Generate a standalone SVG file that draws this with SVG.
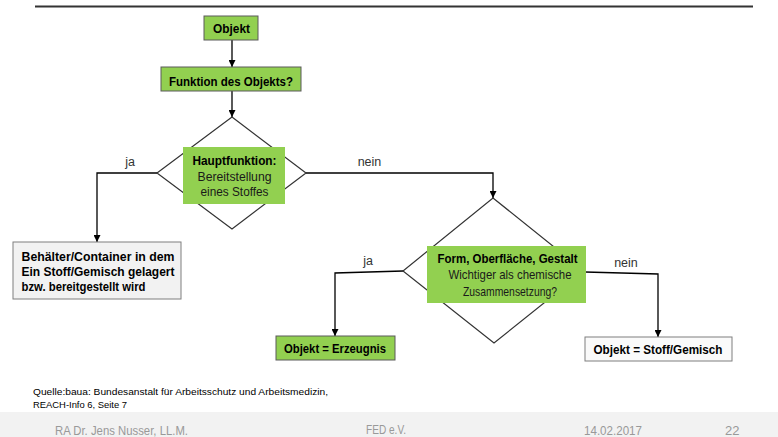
<svg xmlns="http://www.w3.org/2000/svg" width="778" height="437" viewBox="0 0 778 437">
<defs>
<marker id="arr" viewBox="0 0 10 10" refX="10" refY="5" markerWidth="7" markerHeight="7" markerUnits="userSpaceOnUse" orient="auto">
<path d="M0,0 L10,5 L0,10 z" fill="#000"/>
</marker>
<style>
.g{fill:#92d050;stroke:#5a5a5a;stroke-width:1}
.gn{fill:#92d050;stroke:none}
.w{fill:#f2f2f2;stroke:#7f7f7f;stroke-width:1}
.d{fill:#fff;stroke:#333;stroke-width:1.2}
.t{font-family:"Liberation Sans",Arial,sans-serif;font-size:13px;fill:#1a1a1a}
.b{font-weight:bold;fill:#000}
.c{text-anchor:middle}
.l{font-family:"Liberation Sans",Arial,sans-serif;font-size:12.5px;fill:#333;text-anchor:middle}
.f{font-family:"Liberation Sans",Arial,sans-serif;font-size:13px;fill:#999}
.q{font-family:"Liberation Sans",Arial,sans-serif;font-size:9.5px;fill:#000}
#connectors line,#connectors polyline{fill:none;stroke:#000;stroke-width:1.3}
</style>
</defs>
<rect x="0" y="0" width="778" height="437" fill="#fff"/>
<line x1="35" y1="6.5" x2="753" y2="6.5" stroke="#333" stroke-width="2"/>

<g id="connectors">
<line x1="232" y1="40" x2="232" y2="67" marker-end="url(#arr)"/>
<line x1="232" y1="91" x2="232" y2="117" marker-end="url(#arr)"/>
<polyline points="157,173 97,173 97,242" marker-end="url(#arr)"/>
<polyline points="306,173 493,173 493,198" marker-end="url(#arr)"/>
<polyline points="403,271 335,273 335,336" marker-end="url(#arr)"/>
<polyline points="585,272 658,274 658,337" marker-end="url(#arr)"/>
<text class="l" x="130" y="166">ja</text>
<text class="l" x="369.5" y="166">nein</text>
<text class="l" x="368" y="265">ja</text>
<text class="l" x="626" y="267">nein</text>
</g>

<g id="objekt">
<rect class="g" x="204" y="16" width="54" height="24"/>
<text class="t b c" x="231.5" y="33" textLength="37" lengthAdjust="spacingAndGlyphs">Objekt</text>
</g>

<g id="funktion">
<rect class="g" x="161" y="67" width="140" height="24"/>
<text class="t b c" x="231" y="86" textLength="124" lengthAdjust="spacingAndGlyphs">Funktion des Objekts?</text>
</g>

<g id="hauptfunktion">
<polygon class="d" points="232,117 306,173 232,229 157,173"/>
<rect class="gn" x="183" y="147" width="102" height="57"/>
<text class="t b c" x="234.5" y="165" textLength="84" lengthAdjust="spacingAndGlyphs">Hauptfunktion:</text>
<text class="t c" x="234.5" y="180.5" textLength="74" lengthAdjust="spacingAndGlyphs">Bereitstellung</text>
<text class="t c" x="234.5" y="196" textLength="68" lengthAdjust="spacingAndGlyphs">eines Stoffes</text>
</g>

<g id="behaelter">
<rect class="w" x="13" y="242" width="168" height="57"/>
<text class="t b" x="21.5" y="260.5" textLength="153" lengthAdjust="spacingAndGlyphs">Behälter/Container in dem</text>
<text class="t b" x="21.5" y="276" textLength="153" lengthAdjust="spacingAndGlyphs">Ein Stoff/Gemisch gelagert</text>
<text class="t b" x="21.5" y="291" textLength="124" lengthAdjust="spacingAndGlyphs">bzw. bereitgestellt wird</text>
</g>

<g id="form">
<polygon class="d" points="493,198 584,271 494,343 403,271"/>
<rect class="gn" x="427" y="246" width="159" height="57"/>
<text class="t b c" x="507.5" y="263" textLength="140" lengthAdjust="spacingAndGlyphs">Form, Oberfläche, Gestalt</text>
<text class="t c" x="510" y="279" textLength="123" lengthAdjust="spacingAndGlyphs">Wichtiger als chemische</text>
<text class="t c" x="510" y="296" textLength="94" lengthAdjust="spacingAndGlyphs">Zusammensetzung?</text>
</g>

<g id="erzeugnis">
<rect class="g" x="276" y="336" width="119" height="24"/>
<text class="t b c" x="335" y="352.5" textLength="102" lengthAdjust="spacingAndGlyphs">Objekt = Erzeugnis</text>
</g>

<g id="stoff">
<rect class="w" x="585" y="337" width="147" height="24" style="fill:#fafafa"/>
<text class="t b c" x="658" y="354" textLength="129" lengthAdjust="spacingAndGlyphs">Objekt = Stoff/Gemisch</text>
</g>

<text class="q" x="33" y="394.5" textLength="295" lengthAdjust="spacingAndGlyphs">Quelle:baua: Bundesanstalt für Arbeitsschutz und Arbeitsmedizin,</text>
<text class="q" x="33" y="408" textLength="94" lengthAdjust="spacingAndGlyphs">REACH-Info 6, Seite 7</text>

<rect x="0" y="412" width="778" height="25" fill="#f2f2f2"/>
<text class="f" x="55" y="435" textLength="133" lengthAdjust="spacingAndGlyphs">RA Dr. Jens Nusser, LL.M.</text>
<text class="f" x="366" y="434" textLength="40" lengthAdjust="spacingAndGlyphs">FED e.V.</text>
<text class="f" x="584" y="435" textLength="58" lengthAdjust="spacingAndGlyphs">14.02.2017</text>
<text class="f" x="725" y="435">22</text>
</svg>
